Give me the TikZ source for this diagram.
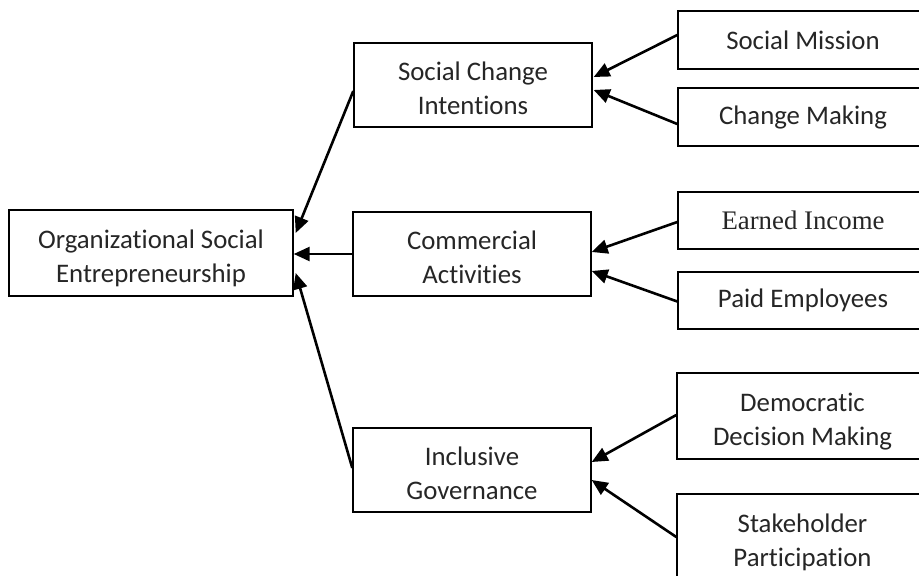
\documentclass[tikz,border=0pt]{standalone}
\usepackage{fontspec}
\setmainfont{Carlito}[Ligatures=NoCommon]
\newfontfamily\eiserif{Liberation Serif}
\usetikzlibrary{arrows.meta,calc}
\newcommand\twolines[2]{\raisebox{0pt}[10pt][20pt]{\begin{tabular}[t]{@{}c@{}}#1\\#2\end{tabular}}}
\tikzset{
  box/.style={draw=black, line width=1.4pt, rectangle, inner sep=0pt,
    font=\fontsize{26.8}{34}\selectfont, text=black!85},
  conn/.style={line width=2.6pt, -{Triangle[length=16pt,width=14pt]}}
}
\begin{document}
\begin{tikzpicture}[x=1pt,y=-1pt]
\useasboundingbox (0,0) rectangle (919,576);
\clip (0,0) rectangle (919,576);
\fill[white] (0,0) rectangle (919,576);
% main
\node[box, minimum width=284pt, minimum height=86pt] (OSE) at (151,253) {\twolines{Organizational Social}{Entrepreneurship}};
% middle
\node[box, minimum width=238pt, minimum height=84pt] (SCI) at (473,85) {\twolines{Social Change}{Intentions}};
\node[box, minimum width=238pt, minimum height=84pt] (CA) at (472,254) {\twolines{Commercial}{Activities}};
\node[box, minimum width=238pt, minimum height=84pt] (IG) at (472,470) {\twolines{Inclusive}{Governance}};
% right
\node[box, minimum width=250pt, minimum height=58pt] (SM) at (803,40) {Social Mission};
\node[box, minimum width=250pt, minimum height=58pt] (CM) at (803,117) {Change Making};
\node[box, minimum width=250pt, minimum height=57pt] (EI) at (803,220.5) {\eiserif Earned Income};
\node[box, minimum width=250pt, minimum height=57pt] (PE) at (803,300.5) {Paid Employees};
\node[box, minimum width=251pt, minimum height=86pt] (DDM) at (802.5,416) {\twolines{Democratic}{Decision Making}};
\node[box, minimum width=251pt, minimum height=86pt] (SP) at (802.5,537) {\twolines{Stakeholder}{Participation}};
% connectors
\draw[conn] ($(SCI.west)+(0,6)$) -- ($(OSE.east)+(2,-20)$);
\draw[conn] (CA.west) -- (CA.west -| OSE.east);
\draw[conn] ($(IG.west)+(0,-2)$) -- ($(OSE.east)+(2,20)$);
\draw[conn] ($(SM.west)+(0,-5)$) -- ($(SCI.east)+(1,-8)$);
\draw[conn] ($(CM.west)+(0,7)$) -- ($(SCI.east)+(1,5)$);
\draw[conn] ($(EI.west)+(0,1.5)$) -- ($(CA.east)+(0,-2)$);
\draw[conn] ($(PE.west)+(0,1)$) -- ($(CA.east)+(0,17)$);
\draw[conn] ($(DDM.west)+(0,-1)$) -- ($(IG.east)+(0,-8)$);
\draw[conn] (SP.west) -- ($(IG.east)+(0,10)$);
\end{tikzpicture}
\end{document}
